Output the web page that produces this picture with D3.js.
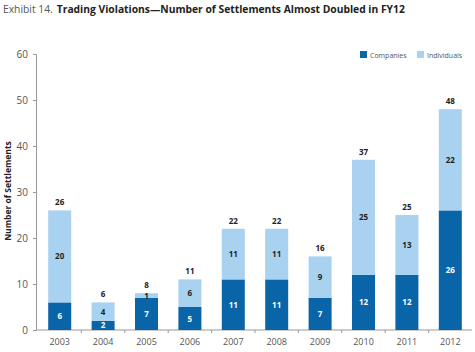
<!DOCTYPE html>
<html><head><meta charset="utf-8">
<script src="https://cdn.jsdelivr.net/npm/d3@7"></script>
<style>body{margin:0;background:#fff}svg{display:block;font-family:"Open Sans",sans-serif}</style>
</head><body>
<script>
const years = ["2003","2004","2005","2006","2007","2008","2009","2010","2011","2012"];
const companies = [6,2,7,5,11,11,7,12,12,26];
const individuals = [20,4,1,6,11,11,9,25,13,22];
const yTicks = [0,10,20,30,40,50,60];
const seriesNames = ["Companies","Individuals"];
const colors = ["#0a64a8","#a8d2ef"];

const W=475,H=352;
const svg=d3.select("body").append("svg").attr("width",W).attr("height",H);
const x=d3.scaleBand().domain(years).range([38,472]).paddingInner(0.47).paddingOuter(0.235);
const y=d3.scaleLinear().domain([0,60]).range([330,54]);

svg.append("text").attr("x",3).attr("y",13).attr("font-size",10.3).attr("fill","#555")
  .text("Exhibit 14.")
  .append("tspan").attr("dx",4).attr("font-weight","bold").attr("fill","#222")
  .text("Trading Violations\u2014Number of Settlements Almost Doubled in FY12");

// y axis
const ya=svg.append("g").attr("transform","translate(36,0)")
  .call(d3.axisLeft(y).tickValues(yTicks).tickSize(3).tickPadding(5));
ya.select(".domain").attr("stroke","#999");
ya.selectAll(".tick line").attr("stroke","#999");
ya.selectAll("text").attr("font-size",10).attr("fill","#555").attr("font-family","Open Sans");

svg.append("text").attr("transform","translate(11,191) rotate(-90)").attr("text-anchor","middle")
  .attr("font-size",8.5).attr("font-weight","bold").attr("fill","#222").text("Number of Settlements");

// x axis
const xa=svg.append("g").attr("transform","translate(0,330)")
  .call(d3.axisBottom(x).tickSize(0).tickPadding(9));
xa.select(".domain").attr("stroke","#999").attr("d","M36,0H472");
xa.selectAll("text").attr("font-size",9).attr("fill","#555").attr("font-family","Open Sans");
const step=x.step();
const bounds=years.slice(0,-1).map(d=>x(d)+x.bandwidth()+(step-x.bandwidth())/2);
svg.append("g").selectAll("line").data(bounds).join("line")
  .attr("x1",d=>d).attr("x2",d=>d).attr("y1",330).attr("y2",333).attr("stroke","#999");

// bars
const g=svg.append("g");
years.forEach((yr,i)=>{
  const c=companies[i], ind=individuals[i], t=c+ind;
  g.append("rect").attr("x",x(yr)).attr("width",x.bandwidth()).attr("y",y(c)).attr("height",y(0)-y(c)).attr("fill",colors[0]);
  g.append("rect").attr("x",x(yr)).attr("width",x.bandwidth()).attr("y",y(t)).attr("height",y(c)-y(t)).attr("fill",colors[1]);
  const cx=x(yr)+x.bandwidth()/2;
  g.append("text").attr("x",cx).attr("y",(y(0)+y(c))/2+3).attr("text-anchor","middle")
    .attr("font-size",8).attr("font-weight","bold").attr("fill","#fff").text(c);
  g.append("text").attr("x",cx).attr("y",(y(c)+y(t))/2+3).attr("text-anchor","middle")
    .attr("font-size",8).attr("font-weight","bold").attr("fill","#222").text(ind);
  g.append("text").attr("x",cx).attr("y",y(t)-5).attr("text-anchor","middle")
    .attr("font-size",8).attr("font-weight","bold").attr("fill","#222").text(t);
});

// legend
const lg=svg.append("g");
const lx=[360,417];
seriesNames.forEach((n,i)=>{
  lg.append("rect").attr("x",lx[i]).attr("y",51).attr("width",7).attr("height",7).attr("fill",colors[i]);
  lg.append("text").attr("x",lx[i]+10).attr("y",57.5).attr("font-size",7).attr("fill","#555").text(n);
});
</script>
</body></html>
